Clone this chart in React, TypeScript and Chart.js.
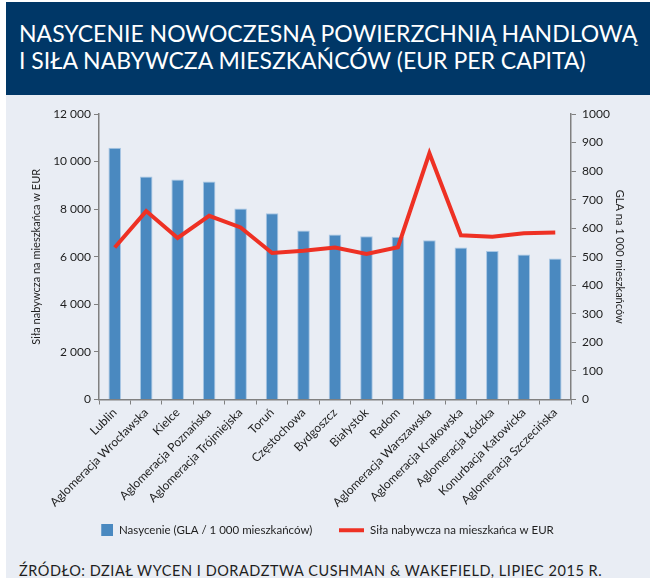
import { useEffect, useRef } from "react";
import { Chart, registerables } from "chart.js";

Chart.register(...registerables);

const categories = [
  "Lublin",
  "Aglomeracja Wrocławska",
  "Kielce",
  "Aglomeracja Poznańska",
  "Aglomeracja Trójmiejska",
  "Toruń",
  "Częstochowa",
  "Bydgoszcz",
  "Białystok",
  "Radom",
  "Aglomeracja Warszawska",
  "Aglomeracja Krakowska",
  "Aglomeracja Łódzka",
  "Konurbacja Katowicka",
  "Aglomeracja Szczecińska",
];

// Nasycenie (GLA / 1 000 mieszkańców) – right axis
const saturation = [882, 781, 771, 764, 669, 652, 592, 578, 572, 570, 558, 532, 520, 508, 494];
// Siła nabywcza na mieszkańca w EUR – left axis
const purchasingPower = [6390, 7920, 6790, 7720, 7230, 6160, 6250, 6390, 6120, 6400, 10350, 6900, 6840, 6990, 7020];

const leftTicks = [0, 2000, 4000, 6000, 8000, 10000, 12000];
const rightTicks = [0, 100, 200, 300, 400, 500, 600, 700, 800, 900, 1000];

const seriesNames = ["Nasycenie (GLA / 1 000 mieszkańców)", "Siła nabywcza na mieszkańca w EUR"];
const leftTitle = "Siła nabywcza na mieszkańca w EUR";
const rightTitle = "GLA na 1 000 mieszkańców";
const titleLines = ["NASYCENIE NOWOCZESNĄ POWIERZCHNIĄ HANDLOWĄ", "I SIŁA NABYWCZA MIESZKAŃCÓW (EUR PER CAPITA)"];
const sourceText = "ŹRÓDŁO: DZIAŁ WYCEN I DORADZTWA CUSHMAN & WAKEFIELD, LIPIEC 2015 R.";

const BAR = "#4a89c0";
const BAR_EDGE = "#a9c7e4";
const RED = "#ee3124";
const AXIS = "#808080";
const TEXT = "#1e1e1e";
const FONT = "Lato, 'Open Sans', sans-serif";
const SW = 25; // legend swatch slot width

function fmt(v: number) {
  return String(v).replace(/\B(?=(\d{3})+(?!\d))/g, " ");
}

function makeSwatch(kind: "box" | "line") {
  const c = document.createElement("canvas");
  c.width = SW;
  c.height = 12;
  const g = c.getContext("2d")!;
  if (kind === "box") {
    g.fillStyle = BAR;
    g.fillRect(SW - 12, 0, 12, 12);
  } else {
    g.fillStyle = RED;
    g.fillRect(SW - 25, 4, 25, 4);
  }
  return c;
}

export default function App() {
  const ref = useRef<HTMLCanvasElement | null>(null);

  useEffect(() => {
    if (!ref.current) return;
    const box = makeSwatch("box");
    const line = makeSwatch("line");
    const chart = new Chart(ref.current, {
      type: "bar",
      data: {
        labels: categories,
        datasets: [
          {
            type: "bar",
            label: seriesNames[0],
            data: saturation,
            yAxisID: "y1",
            backgroundColor: BAR,
            borderColor: BAR_EDGE,
            borderWidth: 1,
            barPercentage: 0.5,
            categoryPercentage: 0.8,
            order: 2,
          },
          {
            type: "line",
            label: seriesNames[1],
            data: purchasingPower,
            yAxisID: "y",
            borderColor: RED,
            backgroundColor: RED,
            borderWidth: 4,
            pointRadius: 0,
            tension: 0,
            fill: false,
            order: 1,
          },
        ],
      } as any,
      options: {
        animation: false,
        responsive: false,
        devicePixelRatio: 1,
        layout: { padding: { top: 21, bottom: 0, left: 0, right: 14 } },
        plugins: {
          tooltip: { enabled: false },
          legend: {
            position: "bottom",
            labels: {
              usePointStyle: true,
              pointStyleWidth: SW,
              boxHeight: 12,
              padding: 27,
              color: TEXT,
              font: { family: FONT, size: 11.5 },
              generateLabels: () => [
                { text: seriesNames[0], pointStyle: box, datasetIndex: 0, fontColor: TEXT, lineWidth: 0, hidden: false },
                { text: seriesNames[1], pointStyle: line, datasetIndex: 1, fontColor: TEXT, lineWidth: 0, hidden: false },
              ] as any,
            },
          },
        },
        scales: {
          x: {
            grid: { display: true, drawOnChartArea: false, drawTicks: true, tickLength: 5, color: AXIS, offset: true },
            border: { display: true, color: AXIS, width: 1.5 },
            ticks: {
              autoSkip: false,
              minRotation: 45,
              maxRotation: 45,
              padding: 1,
              color: TEXT,
              font: { family: FONT, size: 12 },
            },
            afterFit: (s: any) => {
              s.height = 98;
              s._computeLabelArea = () => undefined;
            },
          },
          y: {
            position: "left",
            min: 0,
            max: 12000,
            afterBuildTicks: (s: any) => {
              s.ticks = leftTicks.map((v) => ({ value: v }));
            },
            grid: { display: true, drawOnChartArea: false, drawTicks: true, tickLength: 5, color: AXIS },
            border: { display: true, color: AXIS, width: 1.5 },
            ticks: {
              padding: 3,
              color: TEXT,
              font: { family: FONT, size: 12 },
              callback: (v: any) => fmt(Number(v)),
            },
            title: {
              display: true,
              text: leftTitle,
              color: TEXT,
              font: { family: FONT, size: 11 },
              padding: { top: 24, bottom: 0 },
            },
            afterFit: (s: any) => {
              s.width = 93;
            },
          },
          y1: {
            position: "right",
            min: 0,
            max: 1000,
            afterBuildTicks: (s: any) => {
              s.ticks = rightTicks.map((v) => ({ value: v }));
            },
            grid: { display: true, drawOnChartArea: false, drawTicks: true, tickLength: 5, color: AXIS },
            border: { display: true, color: AXIS, width: 1.5 },
            ticks: {
              padding: 6,
              color: TEXT,
              font: { family: FONT, size: 12 },
              callback: (v: any) => String(v),
            },
            title: {
              display: true,
              text: rightTitle,
              color: TEXT,
              font: { family: FONT, size: 11 },
              padding: { top: 10, bottom: 0 },
            },
            afterFit: (s: any) => {
              s.width = 65;
            },
          },
        },
      } as any,
    });
    return () => chart.destroy();
  }, []);

  return (
    <div style={{ position: "absolute", left: 0, top: 0, width: 650, height: 584, background: "#ffffff", overflow: "hidden" }}>
      <div style={{ position: "absolute", left: 6, top: 2, width: 644, height: 93, background: "#003767" }} />
      <div style={{ position: "absolute", left: 6, top: 95, width: 644, height: 483, background: "#e9edf4" }} />
      <div
        style={{
          position: "absolute",
          left: 19,
          top: 20,
          color: "#ffffff",
          fontFamily: FONT,
          fontSize: 23,
          lineHeight: "27px",
          whiteSpace: "nowrap",
        }}
      >
        <div>{titleLines[0]}</div>
        <div>{titleLines[1]}</div>
      </div>
      <canvas
        ref={ref}
        width={644}
        height={453}
        style={{ position: "absolute", left: 6, top: 93, width: 644, height: 453, display: "block" }}
      />
      <div
        style={{
          position: "absolute",
          left: 19,
          top: 564,
          color: TEXT,
          fontFamily: FONT,
          fontSize: 14.5,
          letterSpacing: "0.55px",
          lineHeight: "14px",
          whiteSpace: "nowrap",
        }}
      >
        {sourceText}
      </div>
    </div>
  );
}
